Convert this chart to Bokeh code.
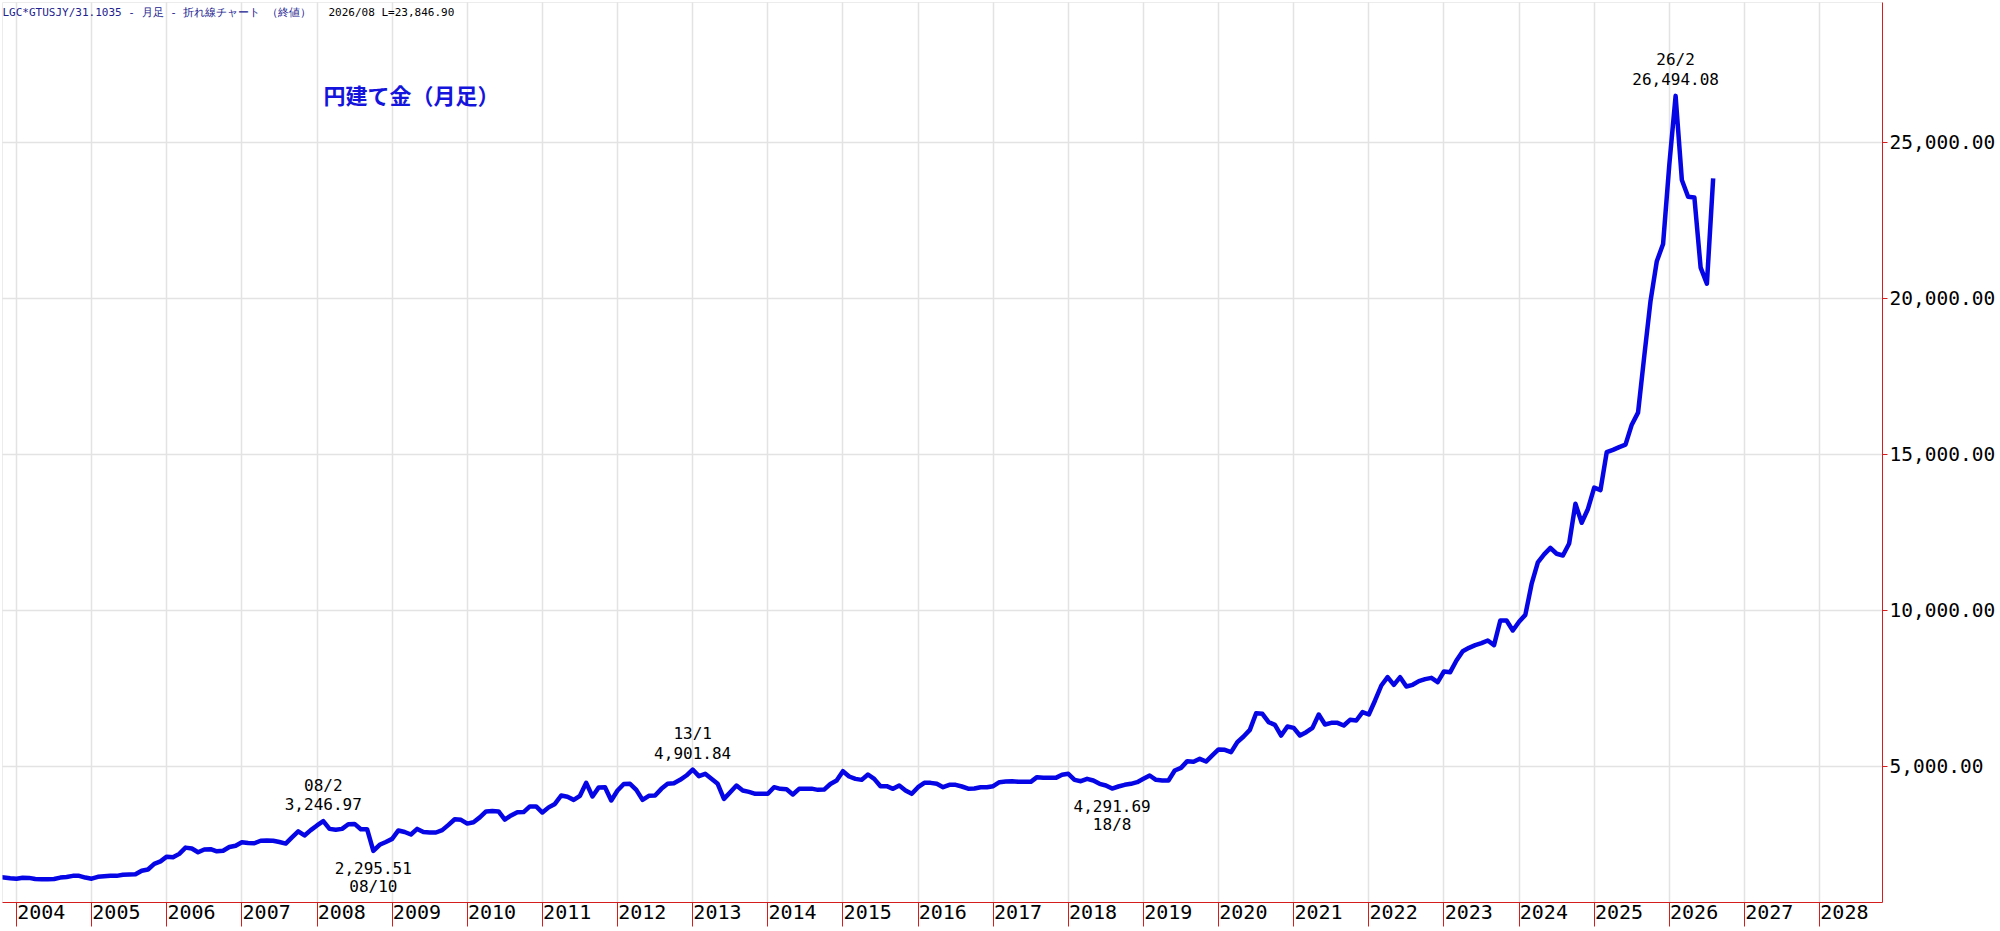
from bokeh.plotting import figure
from bokeh.models import (FixedTicker, NumeralTickFormatter, Label, Range1d, CustomJSTickFormatter,
                          ColumnDataSource, BoxAnnotation)
from bokeh.core.properties import value
from bokeh.embed import file_html
from bokeh.resources import INLINE

# ---- data: monthly close, gold in JPY per gram ----
first_month_2003 = 10
gold_2003 = [1450, 1445, 1420]
gold_2004 = [1400, 1435, 1430, 1395, 1390, 1390, 1395, 1440, 1460, 1495, 1495, 1440]
gold_2005 = [1405, 1465, 1480, 1495, 1495, 1530, 1540, 1545, 1660, 1700, 1880, 1960]
gold_2006 = [2110, 2090, 2200, 2400, 2370, 2250, 2340, 2350, 2280, 2300, 2420, 2460]
gold_2007 = [2570, 2545, 2540, 2620, 2625, 2620, 2580, 2530, 2730, 2920, 2790, 2960]
gold_2008 = [3110, 3246.97, 3000, 2970, 3000, 3150, 3160, 2990, 2990, 2295.51, 2490, 2580]
gold_2009 = [2680, 2950, 2900, 2820, 3000, 2900, 2885, 2885, 2960, 3130, 3310, 3290]
gold_2010 = [3170, 3215, 3370, 3560, 3570, 3560, 3300, 3430, 3536, 3540, 3720, 3720]
gold_2011 = [3525, 3690, 3800, 4070, 4030, 3930, 4060, 4476, 4040, 4330, 4337, 3910]
gold_2012 = [4230, 4440, 4444, 4252, 3931, 4059, 4070, 4284, 4444, 4465, 4572, 4711]
gold_2013 = [4901.84, 4690, 4765, 4604, 4444, 3963, 4177, 4391, 4230, 4188, 4124, 4124]
gold_2014 = [4124, 4337, 4284, 4270, 4102, 4284, 4284, 4290, 4252, 4260, 4440, 4550]
gold_2015 = [4850, 4679, 4604, 4572, 4743, 4604, 4369, 4369, 4284, 4391, 4230, 4124]
gold_2016 = [4337, 4476, 4476, 4444, 4337, 4412, 4412, 4359, 4290, 4294, 4337, 4337]
gold_2017 = [4369, 4498, 4519, 4529, 4508, 4508, 4508, 4658, 4640, 4636, 4636, 4733]
gold_2018 = [4765, 4572, 4529, 4604, 4551, 4444, 4391, 4291.69, 4359, 4412, 4444, 4498]
gold_2019 = [4604, 4711, 4572, 4551, 4551, 4871, 4957, 5171, 5150, 5246, 5160, 5353]
gold_2020 = [5545, 5534, 5459, 5780, 5962, 6175, 6709, 6688, 6421, 6336, 5993, 6282]
gold_2021 = [6239, 5993, 6100, 6239, 6667, 6346, 6400, 6400, 6314, 6496, 6474, 6742]
gold_2022 = [6667, 7116, 7596, 7863, 7618, 7863, 7564, 7618, 7735, 7799, 7842, 7703]
gold_2023 = [8045, 8023, 8398, 8697, 8804, 8889, 8953, 9039, 8889, 9680, 9680, 9359]
gold_2024 = [9640, 9860, 10850, 11543, 11800, 12007, 11819, 11764, 12150, 13419, 12812, 13254]
gold_2025 = [13937, 13860, 15073, 15150, 15238, 15316, 15955, 16341, 18161, 19926, 21195, 21746]
gold_2026 = [24300, 26494.08, 23800, 23260, 23240, 20990, 20475, 23846.90]

year_labels = list(range(2004, 2029))
price_ticks = [5000, 10000, 15000, 20000, 25000]

# points to annotate: (year, month)
peak_marks = [(2008, 2), (2013, 1), (2026, 2)]
trough_marks = [(2008, 10), (2018, 8)]

header_main = "LGC*GTUSJY/31.1035 - 月足 - 折れ線チャート （終値）"
header_last = "2026/08 L=23,846.90"
chart_title = "円建て金（月足）"

# ---- build series ----
by_year = {
    2003: gold_2003, 2004: gold_2004, 2005: gold_2005, 2006: gold_2006, 2007: gold_2007,
    2008: gold_2008, 2009: gold_2009, 2010: gold_2010, 2011: gold_2011, 2012: gold_2012,
    2013: gold_2013, 2014: gold_2014, 2015: gold_2015, 2016: gold_2016, 2017: gold_2017,
    2018: gold_2018, 2019: gold_2019, 2020: gold_2020, 2021: gold_2021, 2022: gold_2022,
    2023: gold_2023, 2024: gold_2024, 2025: gold_2025, 2026: gold_2026,
}
xs, ys, lookup = [], [], {}
for yr, vals in by_year.items():
    m0 = first_month_2003 if yr == 2003 else 1
    for i, v in enumerate(vals):
        m = m0 + i
        t = yr + (m - 1) / 12.0
        xs.append(t)
        ys.append(v)
        lookup[(yr, m)] = (t, v)

LINE_BLUE = "#0505e6"
RED = "#d41e1e"
GRID = "#e3e3e3"

W, H = 1998, 928
MB_L, MB_T, MB_B, MB_R = 2, 2, 26, 115
FRAME_H = H - MB_T - MB_B

p = figure(width=W, height=H, output_backend="svg", toolbar_location=None,
           x_range=Range1d(2003.8138, 2028.8373), y_range=Range1d(641, 29487),
           y_axis_location="right",
           min_border_left=MB_L, min_border_top=MB_T, min_border_bottom=MB_B, min_border_right=MB_R)
p.outline_line_color = None
p.background_fill_color = "white"
p.border_fill_color = "white"

# x axis: year labels between red separators
xax = p.xaxis[0]
xax.ticker = FixedTicker(ticks=[y + 0.33 for y in year_labels],
                         minor_ticks=[float(y) for y in year_labels])
xax.formatter = CustomJSTickFormatter(code="return String(Math.round(tick - 0.33))")
xax.axis_line_color = RED
xax.axis_line_width = 1
xax.major_tick_line_color = None
xax.major_tick_out = 0
xax.major_tick_in = 0
xax.minor_tick_line_color = RED
xax.minor_tick_out = 24
xax.minor_tick_in = 0
xax.major_label_standoff = -22
xax.major_label_text_font = "DejaVu Sans Mono"
xax.major_label_text_font_size = "20px"
xax.major_label_text_color = "black"

# y axis on the right
yax = p.yaxis[0]
yax.ticker = FixedTicker(ticks=price_ticks)
yax.formatter = NumeralTickFormatter(format="0,0.00")
yax.axis_line_color = RED
yax.major_tick_line_color = RED
yax.major_tick_out = 5
yax.major_tick_in = 0
yax.minor_tick_line_color = None
yax.major_label_standoff = 2
yax.major_label_text_font = "DejaVu Sans Mono"
yax.major_label_text_font_size = "19.5px"
yax.major_label_text_color = "black"

p.xgrid.ticker = FixedTicker(ticks=[float(y) for y in year_labels])
p.xgrid.grid_line_color = GRID
p.xgrid.grid_line_width = 1.5
p.ygrid.ticker = FixedTicker(ticks=price_ticks)
p.ygrid.grid_line_color = GRID
p.ygrid.grid_line_width = 1.5

# red baseline continuing under the price axis
p.add_layout(BoxAnnotation(left=W - MB_R, right=W, top=H - MB_B, bottom=H - MB_B + 1,
                           left_units="canvas", right_units="canvas",
                           top_units="canvas", bottom_units="canvas",
                           fill_color=RED, fill_alpha=1.0, line_color=None, level="overlay"))
# black outer border
p.add_layout(BoxAnnotation(left=0, right=W, top=0, bottom=H,
                           left_units="canvas", right_units="canvas",
                           top_units="canvas", bottom_units="canvas",
                           fill_alpha=0.0, line_color="black", line_width=4, level="overlay"))

p.line(xs, ys, line_color=LINE_BLUE, line_width=4.5, line_join="round")

# annotations
def fmt_date(yr, m):
    return "%02d/%d" % (yr % 100, m)

pk = ColumnDataSource(dict(
    x=[lookup[k][0] for k in peak_marks],
    y=[lookup[k][1] for k in peak_marks],
    d=[fmt_date(*k) for k in peak_marks],
    v=["{:,.2f}".format(lookup[k][1]) for k in peak_marks]))
tr = ColumnDataSource(dict(
    x=[lookup[k][0] for k in trough_marks],
    y=[lookup[k][1] for k in trough_marks],
    d=[fmt_date(*k) for k in trough_marks],
    v=["{:,.2f}".format(lookup[k][1]) for k in trough_marks]))

common = dict(text_font=value("DejaVu Sans Mono"), text_font_size="16px",
              text_align="center", text_baseline="middle", text_color="black")
p.text(x="x", y="y", text="d", source=pk, y_offset=-36, **common)
p.text(x="x", y="y", text="v", source=pk, y_offset=-17, **common)
p.text(x="x", y="y", text="v", source=tr, y_offset=17, **common)
p.text(x="x", y="y", text="d", source=tr, y_offset=36, **common)

p.add_layout(Label(x=0, y=FRAME_H - 3, x_units="screen", y_units="screen", text=header_main,
                   text_font="DejaVu Sans Mono", text_font_size="11px", text_color="#22228f",
                   text_baseline="top"))
p.add_layout(Label(x=326, y=FRAME_H - 3, x_units="screen", y_units="screen", text=header_last,
                   text_font="DejaVu Sans Mono", text_font_size="11px", text_color="black",
                   text_baseline="top"))
p.add_layout(Label(x=321, y=FRAME_H - 91, x_units="screen", y_units="screen", text=chart_title,
                   text_font="Noto Sans CJK JP", text_font_size="22px", text_font_style="bold",
                   text_color="#1414dc", text_baseline="middle"))

open("out.html", "w").write(file_html(p, INLINE))
